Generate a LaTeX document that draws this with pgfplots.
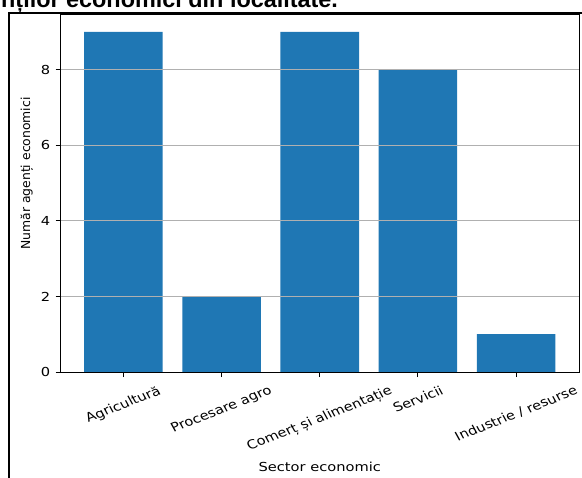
\documentclass[border=0pt]{standalone}
\usepackage{pgfplots}
\pgfplotsset{compat=1.18}
\usepackage{graphicx}
\usepackage{fontspec}
\setmainfont{DejaVu Sans}
\newfontfamily\titlefont{Liberation Sans}
\definecolor{mplblue}{HTML}{1F77B4}
\definecolor{mplgrid}{HTML}{B0B0B0}
\newcommand\xtl[1]{\scalebox{1.18}[1]{\rotatebox{25}{#1}}}
\begin{document}
\begin{tikzpicture}
\useasboundingbox (0,0) rectangle (582bp,478bp);
\node[overlay, anchor=base west, inner sep=0pt, font={\titlefont\bfseries\fontsize{23.4bp}{26bp}\selectfont}] at (1bp,470.5bp) {nților economici din localitate.};
\draw[overlay, line width=1.6bp] (9bp,-20bp) -- (9bp,465bp) -- (620bp,465bp);
\begin{axis}[
  at={(60.5bp,106bp)}, anchor=south west,
  width=518.5bp, height=357bp, scale only axis,
  xmin=-0.64, xmax=4.64, ymin=0, ymax=9.45,
  axis on top,
  axis line style={line width=1bp, black},
  ytick={0,2,4,6,8},
  xtick={0,1,2,3,4},
  xticklabels={{\xtl{Agricultură}},{\xtl{Procesare agro}},{\xtl{Comerț și alimentație}},{\xtl{Servicii}},{\xtl{Industrie / resurse}}},
  yticklabel={\scalebox{1.18}[1]{\pgfmathprintnumber{\tick}}},
  tick align=outside,
  major tick length=5bp,
  every tick/.style={black, line width=1bp},
  xtick pos=bottom, ytick pos=left,
  ymajorgrids,
  major grid style={mplgrid, line width=1bp},
  /pgf/number format/assume math mode=true,
  tick label style={font=\fontsize{12.4bp}{15bp}\selectfont},
  xticklabel style={anchor=north, inner sep=0pt, yshift=-8bp},
  yticklabel style={anchor=east, inner sep=0pt, xshift=-5bp},
  xlabel={\scalebox{1.18}[1]{Sector economic}},
  ylabel={Număr agenți economici},
  label style={font=\fontsize{12.4bp}{15bp}\selectfont},
  xlabel style={at={(0.5,0)}, anchor=base, yshift=-99bp},
  ylabel style={at={(-0.0588,0.556)}, anchor=base},
]
\addplot[ybar, bar width=0.8, fill=mplblue, draw=none] coordinates {(0,9) (1,2) (2,9) (3,8) (4,1)};
\end{axis}
\end{tikzpicture}
\end{document}
